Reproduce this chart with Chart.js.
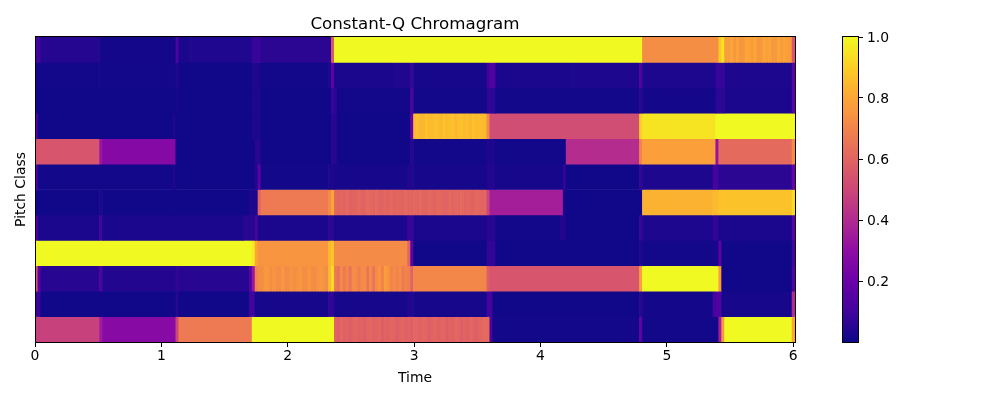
<!DOCTYPE html>
<html>
<head>
<meta charset="utf-8">
<title>Constant-Q Chromagram</title>
<script src="https://cdn.jsdelivr.net/npm/chart.js@4"></script>
<style>
  html, body { margin: 0; padding: 0; background: #fff; overflow: hidden; }
  #wrap { position: relative; width: 1000px; height: 400px; }
  #mainBox { position: absolute; left: 0; top: 0; width: 830px; height: 400px; }
  #barBox { position: absolute; left: 830px; top: 0; width: 170px; height: 400px; }
</style>
</head>
<body>
<div id="wrap">
  <div id="mainBox"><canvas id="chroma"></canvas></div>
  <div id="barBox"><canvas id="colorbar"></canvas></div>
</div>
<script>
// Seconds per analysis frame
const hop = 512 / 22050;
const frameCount = 259;

// Pitch rows top to bottom. Each run: [end frame, value] or [end frame, [value per frame]]
const pitchClasses = ['B', 'A#', 'A', 'G#', 'G', 'F#', 'F', 'E', 'D#', 'D', 'C#', 'C'];

const rowB = [[2, .1], [22, .045], [48, .015], [49, .13], [53, .025], [74, .035], [77, .08], [101, .055], [102, .55], [207, 1], [233, .73], [234, .88], [235, .95],
  [258, [.77, .77, .8, .76, .79, .75, .76, .8, .79, .77, .8, .76, .76, .8, .78, .79, .76, .76, .8, .77, .79, .78, .77]], [259, .55]];
const rowAs = [[22, .01], [48, .012], [49, .04], [74, .005], [77, .03], [100, .01], [101, .03], [102, .18], [122, .025], [128, .035], [129, .08], [154, .02], [155, .09], [157, .14], [182, .025], [206, .03], [207, .14], [232, .03], [235, .08], [258, .03], [259, .16]];
const rowA = [[48, .005], [49, .02], [74, .005], [77, .03], [101, .005], [102, .08], [103, .06], [128, .01], [129, .14], [154, .01], [157, .06], [206, .01], [207, .05], [232, .015], [235, .06], [258, .025], [259, .17]];
const rowGs = [[1, .15], [47, .005], [48, .03], [74, .005], [77, .03], [101, .005], [103, .05], [128, .005], [129, .2],
  [153, [.85, .86, .84, .84, .87, .85, .85, .87, .86, .84, .87, .85, .86, .87, .84, .86, .87, .85, .86, .84, .87, .85, .86, .85]], [154, .85], [155, .72], [206, .52], [207, .9], [232, .95], [259, 1]];
const rowG = [[22, .55], [23, .33], [48, .27], [75, .005], [77, .05], [101, .005], [103, .05], [128, .005], [129, .05], [154, .01], [157, .03], [181, .01], [206, .41], [207, .7], [232, .78], [233, .32], [258, .62], [259, .72]];
const rowFs = [[1, .15], [47, .01], [48, .03], [75, .005], [76, .04], [77, .17], [100, .01], [102, .03], [127, .02], [129, .04], [154, .02], [157, .04], [180, .02], [181, .07], [206, .005], [207, .07], [231, .03], [233, .11], [258, .055], [259, .2]];
const rowF = [[22, .005], [23, .03], [47, .005], [48, .01], [73, .005], [76, .03], [77, .6], [100, .67], [101, .72], [102, .8],
  [154, [.62, .6, .61, .6, .62, .59, .6, .6, .62, .6, .6, .62, .61, .6, .62, .6, .6, .61, .6, .62, .6, .61, .6, .6, .62, .6, .6, .61, .6, .62, .6, .6, .62, .61, .6, .62, .61, .6, .6, .62, .6, .61, .6, .62, .6, .61, .6, .6, .62, .61, .6, .61]],
  [155, .5], [180, .36], [181, .03], [207, .005], [231, .83], [233, .85], [258, .87], [259, .93]];
const rowE = [[1, .15], [22, .025], [23, .1], [71, .025], [75, .05], [76, .12], [100, .025], [102, .06], [127, .025], [129, .08], [154, .025], [157, .05], [179, .01], [181, .04], [206, .005], [207, .08], [231, .03], [233, .07], [258, .025], [259, .16]];
const rowDs = [[74, 1], [75, .97], [76, .8], [100, .75], [101, .84], [102, .88], [127, .72], [128, .6], [129, .17], [154, .005], [157, .07], [206, .005], [207, .03], [231, .01], [233, .02], [234, .17], [258, .005], [259, .1]];
const rowD = [[1, .55], [2, .15], [22, .05], [23, .13], [48, .04], [49, .07], [73, .05], [74, .15], [75, .33], [76, .7],
  [100, [.73, .73, .76, .76, .73, .75, .73, .72, .76, .72, .73, .75, .73, .74, .76, .73, .73, .76, .73, .72, .75, .76, .74, .73]],
  [101, .85], [102, .93],
  [128, [.67, .64, .72, .67, .71, .65, .72, .72, .68, .72, .73, .65, .72, .65, .72, .75, .7, .77, .75, .7, .72, .7, .72, .67, .7, .68]],
  [129, .6], [154, .71], [155, .58], [206, .55], [207, .78], [233, 1], [234, .78], [258, .005], [259, .14]];
const rowCs = [[2, .08], [48, .005], [49, .05], [73, .005], [75, .1], [100, .02], [102, .07], [127, .02], [129, .04], [154, .02], [156, .1], [206, .005], [207, .05], [231, .015], [232, .1], [234, .14], [258, .02], [259, .4]];
const rowC = [[22, .48], [23, .35], [48, .28], [49, .5], [74, .67], [102, 1],
  [155, [.6, .58, .61, .59, .6, .58, .6, .61, .59, .6, .58, .6, .61, .59, .6, .61, .58, .6, .59, .61, .6, .58, .6, .61, .59, .6, .58, .61, .6, .59, .61, .6, .58, .6, .61, .59, .6, .61, .58, .6, .59, .61, .6, .58, .6, .59, .61, .6, .58, .6, .61, .62, .62]],
  [156, .12], [206, .01], [207, .17], [233, .01], [234, .35], [235, .75], [258, 1], [259, .8]];
const allRows = [rowB, rowAs, rowA, rowGs, rowG, rowFs, rowF, rowE, rowDs, rowD, rowCs, rowC];

const xTicks = [0, 1, 2, 3, 4, 5, 6];
const barTicks = [0.2, 0.4, 0.6, 0.8, 1.0];

// plasma colormap at tenths
const plasma = ['#0d0887', '#41049d', '#6a00a8', '#8f0da4', '#b12a90', '#cc4778', '#e16462', '#f2844b', '#fca636', '#fcce25', '#f0f921'];

const fontName = '"DejaVu Sans"';
const labelFont = { family: fontName, size: 13.9 };

function hexToRgb(hex) {
    return [1, 3, 5].map(i => parseInt(hex.substr(i, 2), 16));
}

function plasmaColor(v) {
    const p = Math.min(Math.max(v, 0), 1) * 10;
    const i = Math.min(Math.floor(p), 9);
    const a = hexToRgb(plasma[i]);
    const b = hexToRgb(plasma[i + 1]);
    const c = a.map((n, k) => Math.round(n + (b[k] - n) * (p - i)));
    return `rgb(${c[0]},${c[1]},${c[2]})`;
}

// Turn a row's runs into floating bars
function rowToBars(label, runs) {
    const bars = [];
    let start = 0;
    runs.forEach(([end, value]) => {
        if (Array.isArray(value)) {
            value.forEach((v, i) => {
                const step = (end - start) / value.length;
                bars.push({ x: [(start + i * step) * hop, (start + (i + 1) * step) * hop], y: label, v: v });
            });
        } else {
            bars.push({ x: [start * hop, end * hop], y: label, v: value });
        }
        start = end;
    });
    return bars;
}

// Axes frame on all four sides
const framePlugin = {
    id: 'frame',
    afterDatasetsDraw(chart) {
        const { ctx, chartArea: a } = chart;
        ctx.save();
        ctx.strokeStyle = '#000';
        ctx.lineWidth = 1;
        ctx.strokeRect(a.left + 0.5, a.top - 0.5, a.right - a.left, a.bottom - a.top + 1);
        ctx.restore();
    }
};

new Chart(document.getElementById('chroma'), {
    type: 'bar',
    data: {
        labels: pitchClasses,
        datasets: allRows.map((runs, i) => {
            const bars = rowToBars(pitchClasses[i], runs);
            return {
                data: bars,
                backgroundColor: bars.map(b => plasmaColor(b.v)),
                borderWidth: 0,
                grouped: false,
                barPercentage: 1,
                categoryPercentage: 1
            };
        })
    },
    options: {
        indexAxis: 'y',
        responsive: true,
        maintainAspectRatio: false,
        animation: false,
        layout: { padding: { left: 0, right: 35, top: 0, bottom: 0 } },
        plugins: {
            legend: { display: false },
            tooltip: { enabled: false },
            title: {
                display: true,
                fullSize: false,
                text: 'Constant-Q Chromagram',
                color: '#000',
                font: { family: fontName, size: 16.67, weight: 'normal' },
                padding: { top: 15, bottom: 2 }
            }
        },
        scales: {
            x: {
                type: 'linear',
                min: 0,
                max: frameCount * hop,
                grid: { display: true, drawOnChartArea: false, drawTicks: true, tickLength: 5, color: '#000' },
                border: { display: false },
                ticks: { color: '#000', font: labelFont, padding: 1, maxRotation: 0, includeBounds: false, autoSkip: false, stepSize: 1 },
                afterBuildTicks: axis => { axis.ticks = xTicks.map(t => ({ value: t })); },
                afterFit: axis => { axis.height = 58; },
                title: { display: true, text: 'Time', color: '#000', font: labelFont, padding: { top: 0, bottom: 13 } }
            },
            y: {
                type: 'category',
                grid: { display: false },
                border: { display: false },
                ticks: { display: false },
                afterFit: axis => { axis.width = 35; },
                title: { display: true, text: 'Pitch Class', color: '#000', font: labelFont, padding: { top: 13, bottom: 0 } }
            }
        }
    },
    plugins: [framePlugin]
});

// Colorbar, one floating bar painted with the colormap
new Chart(document.getElementById('colorbar'), {
    type: 'bar',
    data: {
        labels: ['scale'],
        datasets: [{
            data: [[0, 1]],
            borderWidth: 0,
            barPercentage: 1,
            categoryPercentage: 1,
            backgroundColor: ctx => {
                const chart = ctx.chart;
                if (!chart.chartArea) return '#000';
                const g = chart.ctx.createLinearGradient(0, chart.chartArea.bottom, 0, chart.chartArea.top);
                plasma.forEach((c, i) => g.addColorStop(i / (plasma.length - 1), c));
                return g;
            }
        }]
    },
    options: {
        responsive: true,
        maintainAspectRatio: false,
        animation: false,
        layout: { padding: { left: 12, right: 0, top: 37, bottom: 58 } },
        plugins: { legend: { display: false }, tooltip: { enabled: false } },
        scales: {
            x: { display: false },
            y: {
                position: 'right',
                min: 0,
                max: 1,
                grid: { display: true, drawOnChartArea: false, drawTicks: true, tickLength: 5, color: '#000' },
                border: { display: false },
                ticks: { color: '#000', font: labelFont, padding: 4, labelOffset: 1.5, callback: v => v.toFixed(1) },
                afterBuildTicks: axis => { axis.ticks = barTicks.map(t => ({ value: t })); },
                afterFit: axis => { axis.width = 142; }
            }
        }
    },
    plugins: [framePlugin]
});
</script>
</body>
</html>
